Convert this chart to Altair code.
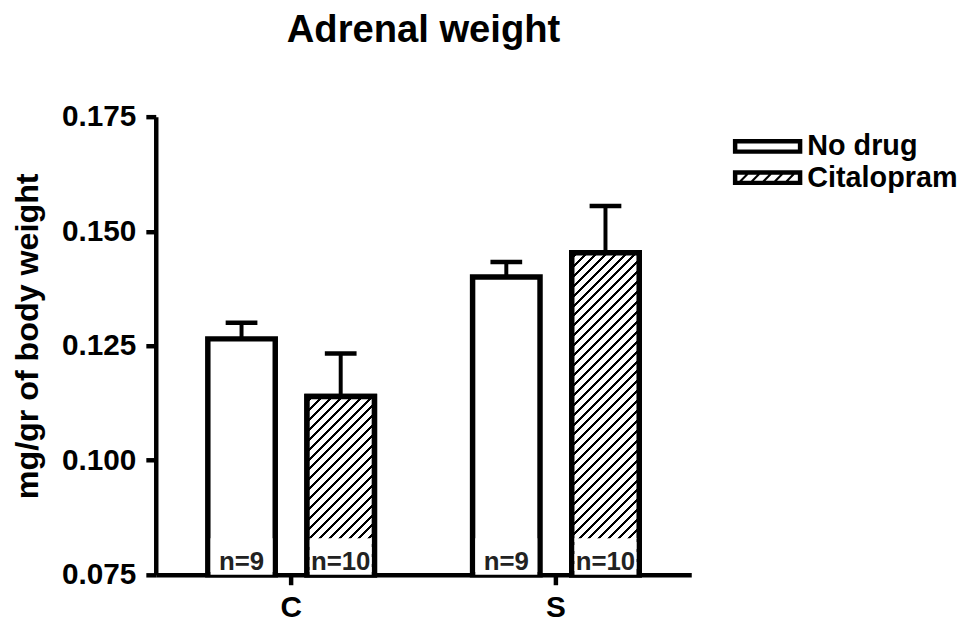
import altair as alt
import pandas as pd

# ---- data ----
groups = ["C", "C", "S", "S"]
treatments = ["No drug", "Citalopram", "No drug", "Citalopram"]
means = [0.1265, 0.1139, 0.1400, 0.1453]
uppers = [0.1300, 0.1233, 0.1433, 0.1555]
n_labels = ["n=9", "n=10", "n=9", "n=10"]

treatment_order = ["No drug", "Citalopram"]
group_order = ["C", "S"]
y_ticks = [0.075, 0.100, 0.125, 0.150, 0.175]
y_min, y_max = 0.075, 0.175

df = pd.DataFrame({"Group": groups, "Treatment": treatments, "Mean": means,
                   "Upper": uppers, "N": n_labels})

# ---- layout / style ----
W, H = 540, 462
FONT = "Liberation Sans, Arial, Helvetica, sans-serif"
STROKE = 5.5
X_PO = (W / 267 - 2) / 2
OFF_PI, OFF_PO = 0.32, 0.495
step_x = W / (2 + 2 * X_PO)
step_o = step_x / (2 - OFF_PI + 2 * OFF_PO)
BAR_W = step_o * (1 - OFF_PI)


def hatch(w, h, period=10.0, thick=3.0):
    L = w + h
    stops = [{"offset": 0, "color": "white"}]
    pos = period * 0.4
    while pos < L:
        a = round(pos / L, 5)
        b = round(min((pos + thick) / L, 1), 5)
        stops += [{"offset": a, "color": "white"}, {"offset": a, "color": "black"},
                  {"offset": b, "color": "black"}, {"offset": b, "color": "white"}]
        pos += period
    stops.append({"offset": 1, "color": "white"})
    s = L * w / (w * w + h * h)
    return {"gradient": "linear", "x1": 0, "y1": 0, "x2": round(s, 5),
            "y2": round(s * h / w, 5), "stops": stops}


x_enc = alt.X("Group:N", sort=group_order, title=None,
              scale=alt.Scale(paddingInner=0, paddingOuter=X_PO))
xo_enc = alt.XOffset("Treatment:N", sort=treatment_order,
                     scale=alt.Scale(domain=treatment_order, paddingInner=OFF_PI,
                                     paddingOuter=OFF_PO))
y_scale = alt.Scale(domain=[y_min, y_max], zero=False, nice=False)

base = alt.Chart(df)

stems = base.mark_rule(color="black", strokeWidth=4).encode(
    x=x_enc, xOffset=xo_enc,
    y=alt.Y("Mean:Q", scale=y_scale), y2="Upper:Q")
caps = base.mark_tick(color="black", size=32, thickness=4.5, opacity=1).encode(
    x=x_enc, xOffset=xo_enc, y=alt.Y("Upper:Q", scale=y_scale))

bars = base.mark_bar(fill="white", stroke="black", strokeWidth=STROKE).encode(
    x=x_enc, xOffset=xo_enc,
    y=alt.Y("Mean:Q", scale=y_scale,
            axis=alt.Axis(values=y_ticks, format=".3f", title="mg/gr of body weight")),
    y2=alt.datum(y_min))

hatch_layers = []
for g, t, m in zip(groups, treatments, means):
    if t != "Citalopram":
        continue
    h_px = (m - y_min) / (y_max - y_min) * H
    hatch_layers.append(
        base.transform_filter(
            (alt.datum.Group == g) & (alt.datum.Treatment == t)
        ).mark_bar(fill=hatch(BAR_W, h_px), stroke="black", strokeWidth=STROKE).encode(
            x=x_enc, xOffset=xo_enc, y=alt.Y("Mean:Q", scale=y_scale), y2=alt.datum(y_min))
    )

label_boxes = base.mark_bar(color="white", width=BAR_W - STROKE).encode(
    x=x_enc, xOffset=xo_enc, y=alt.Y(datum=y_min, scale=y_scale), y2=alt.datum(0.0830))

n_text = base.mark_text(font=FONT, fontSize=26, fontWeight="bold", color="#222222",
                        baseline="alphabetic", dy=-5).encode(
    x=x_enc, xOffset=xo_enc, y=alt.Y(datum=y_min, scale=y_scale), text="N:N")

# legend swatches as custom symbol paths (unit = sqrt(size)/2 = 16 px)
U = 16.0
X_, Y_, B_ = 35 / U, 7.5 / U, 4.5 / U
ring = (f"M{-X_},{-Y_}H{X_}V{Y_}H{-X_}Z"
        f"M{-(X_ - B_)},{-(Y_ - B_)}V{Y_ - B_}H{X_ - B_}V{-(Y_ - B_)}Z")
hy = (Y_ - B_)
para = ""
for xc in [-24, -12.3, -0.6, 11, 22.7]:
    x0 = (xc - 4.5) / U
    para += (f"M{x0:.4f},{hy:.4f}L{x0 + 6 / U:.4f},{-hy:.4f}"
             f"L{x0 + 9 / U:.4f},{-hy:.4f}L{x0 + 3 / U:.4f},{hy:.4f}Z")
shape_paths = [ring, ring + para]

legend_pts = base.mark_point(filled=True, color="black", opacity=0).encode(
    x=x_enc, xOffset=xo_enc, y=alt.Y("Mean:Q", scale=y_scale),
    shape=alt.Shape("Treatment:N", sort=treatment_order,
                    scale=alt.Scale(domain=treatment_order, range=shape_paths),
                    legend=alt.Legend(title=None, orient="none", legendX=601, legendY=14,
                                      symbolSize=1024, symbolOpacity=1, symbolStrokeWidth=0,
                                      symbolFillColor="black",
                                      labelFont=FONT, labelFontSize=29, labelFontWeight="bold",
                                      labelColor="black", labelOffset=24, labelLimit=0,
                                      rowPadding=0.5, padding=0)))

chart = alt.layer(stems, caps, bars, *hatch_layers, label_boxes, n_text, legend_pts).properties(
    width=W, height=H,
    title=alt.TitleParams("Adrenal weight", font=FONT, fontSize=38.5, fontWeight="bold",
                          anchor="middle", color="black", offset=52),
    autosize=alt.AutoSizeParams(type="none"),
    padding={"left": 149, "top": 107, "right": 270, "bottom": 46},
).configure_view(stroke=None).configure_axis(
    domainColor="black", domainWidth=4.5, tickColor="black", tickWidth=4.5, tickSize=10,
    labelFont=FONT, labelFontWeight="bold", labelColor="black", grid=False, zindex=1,
    titleFont=FONT, titleFontWeight="bold", titleColor="black",
).configure_axisY(
    labelFontSize=30, labelPadding=10, titleFontSize=32.5, titlePadding=17, titleY=221,
).configure_axisX(
    labelFontSize=30, labelPadding=8, labelAngle=0,
)

chart.save("out.html", embed_options={"renderer": "svg", "actions": False})
